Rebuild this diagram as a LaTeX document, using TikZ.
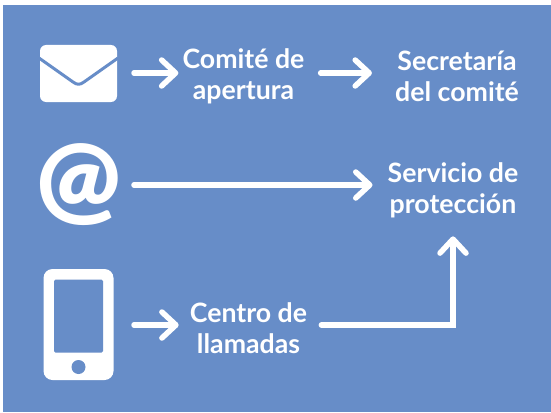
\documentclass[tikz,border=0pt]{standalone}
\usepackage{fontspec}
\usetikzlibrary{arrows.meta}
\setmainfont{Lato}
\newfontface\latoblack{Lato Black}
\definecolor{bg}{HTML}{678DC8}
\tikzset{
 lbl/.style={text=white,font=\fontsize{26.7}{31}\selectfont\bfseries,align=center,inner sep=0pt},
 icon/.style={inner sep=0pt,outer sep=0pt,minimum width=77pt,minimum height=57pt},
 conn/.style={draw=white,line width=5.5pt,line cap=round,line join=miter,-{Straight Barb[length=14pt,width=26pt,line width=5.5pt,round]}}
}
\begin{document}
\begin{tikzpicture}[x=1pt,y=-1pt]
\useasboundingbox (0,0) rectangle (551,412);
\fill[white] (0,0) rectangle (551,412);
\fill[bg] (3,5) rectangle (551,412);
% envelope
\fill[white,rounded corners=6pt] (40,45) rectangle (117,102);
\draw[bg,line width=3pt,line join=round,line cap=butt] (39,58) -- (73,82) .. controls (77,85) and (80,85) .. (84,82) -- (118,58);
\node[icon] (mail) at (78.5,73) {};
% at
\node[inner sep=0pt,outer sep=0pt,text=white,font=\latoblack\fontsize{100}{100}\selectfont] (at) at (78.5,185) {@};
% phone
\fill[white,rounded corners=9pt] (43.5,269) rectangle (113.5,380);
\fill[bg,rounded corners=1.5pt] (54,279.5) rectangle (103,352.5);
\fill[bg] (78.5,367) circle (7);
\node[icon] (phone) at (78.5,325) {};
% labels
\node[lbl] (comite) at (243.5,76.5) {Comité de\\apertura};
\node[lbl] (secre) at (457,76.5) {Secretaría\\del comité};
\node[lbl] (serv) at (453,190.5) {Servicio de\\protección};
\node[lbl] (centro) at (248.5,328) {Centro de\\llamadas};
% connectors
\draw[conn,shorten <=17pt,shorten >=4pt] (mail.east) -- (mail.east -| comite.west);
\draw[conn,shorten <=16pt,shorten >=23pt] (comite.east |- mail.east) -- (secre.west |- mail.east);
\draw[conn,shorten <=13pt,shorten >=15pt] (at.east) -- (serv.west |- mail.east |- at.east);
\draw[conn,shorten <=17pt,shorten >=11pt] (phone.east) -- (phone.east -| centro.west);
\draw[conn,shorten <=14pt,shorten >=18pt] (centro.east |- phone.east) -| (serv.south);
\end{tikzpicture}
\end{document}
